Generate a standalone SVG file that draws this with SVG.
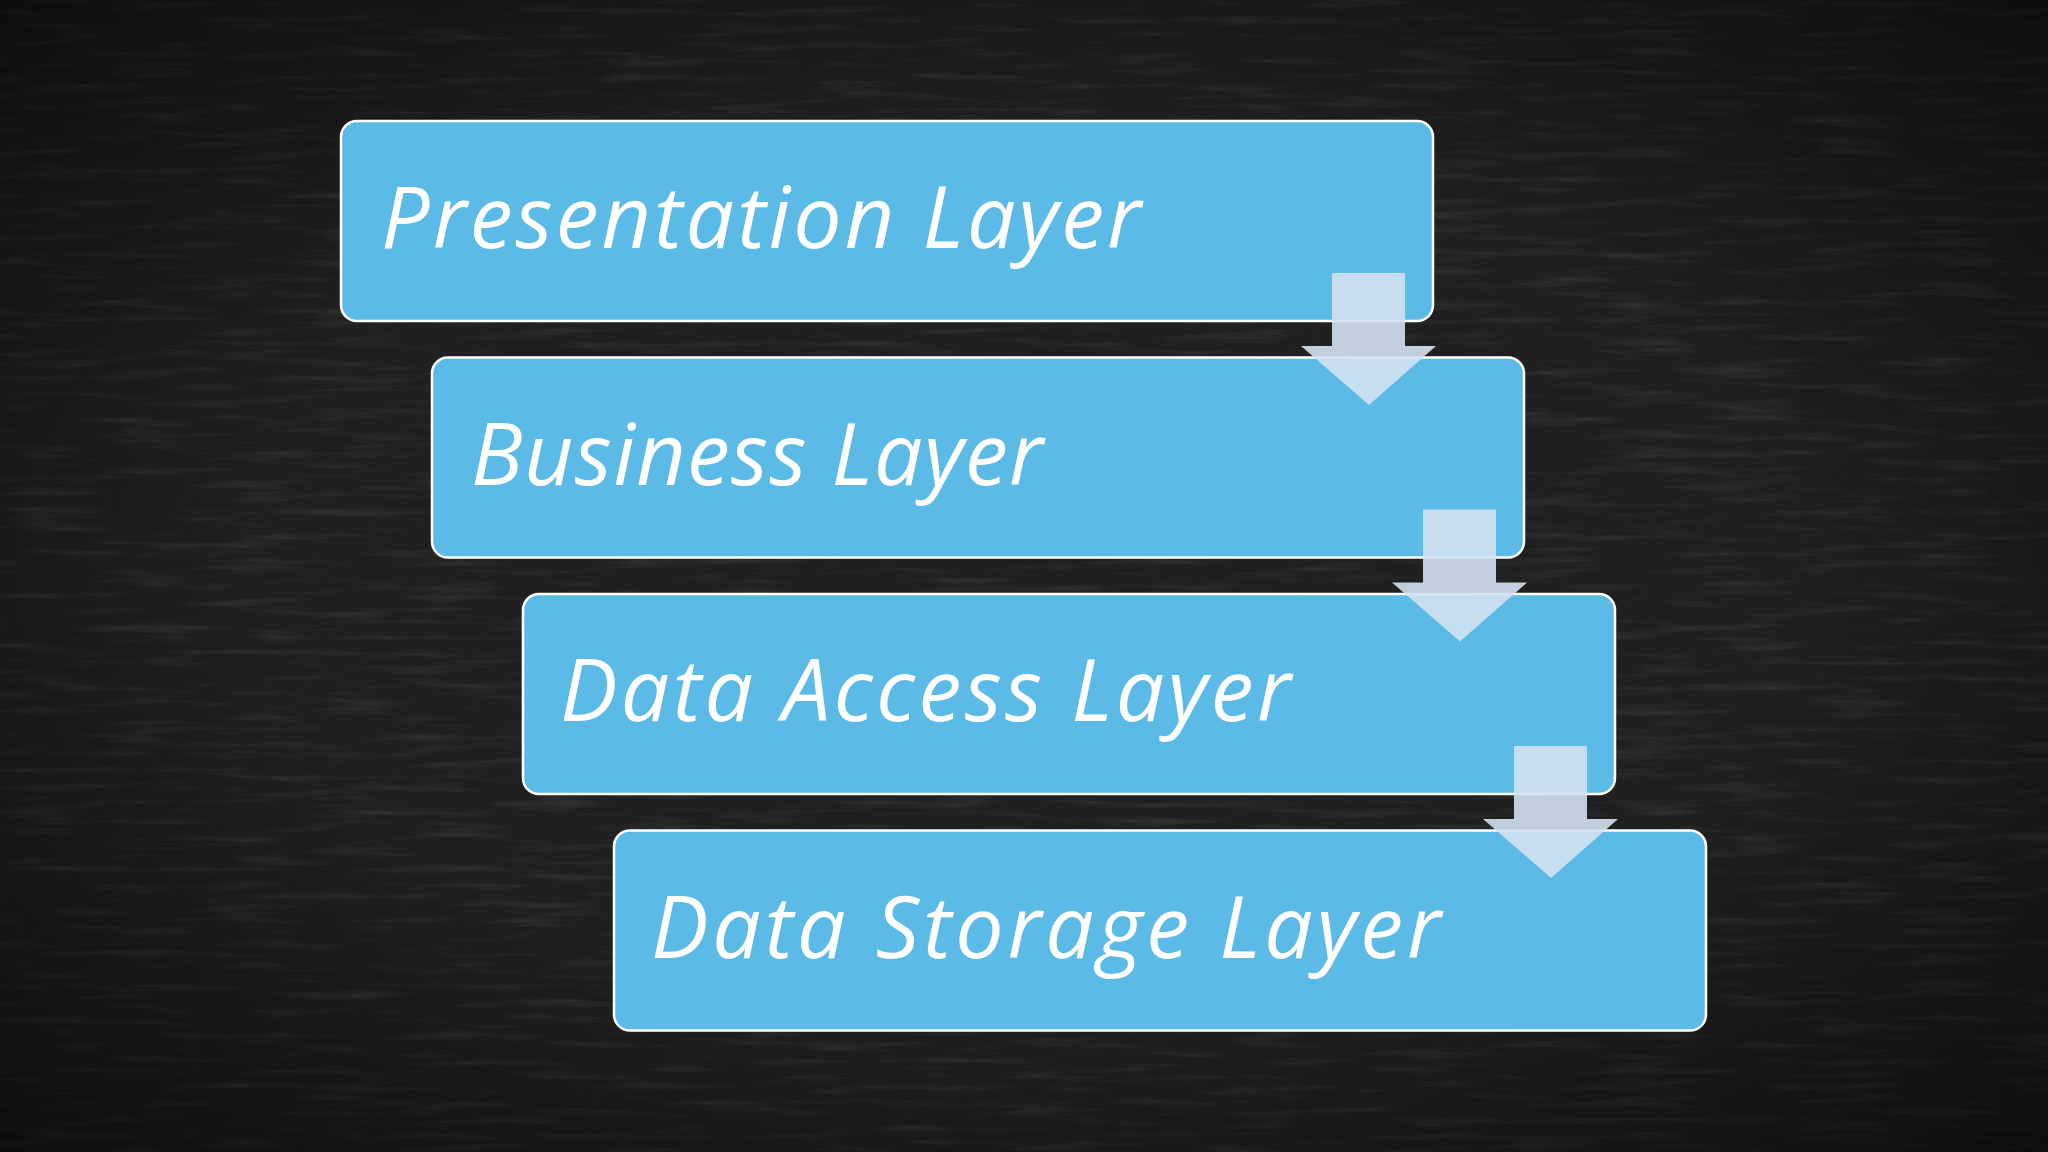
<svg xmlns="http://www.w3.org/2000/svg" width="2048" height="1152" viewBox="0 0 2048 1152">
  <defs>
    <style>
      .box { fill: #5bbae6; stroke: #ffffff; stroke-width: 2.5; }
      .lbl { font-family: "Open Sans", "Noto Sans", "DejaVu Sans", sans-serif; font-style: italic; font-size: 86px; fill: #ffffff; }
      .arrow { fill: #d1e2f0; fill-opacity: 0.9; }
    </style>
    <filter id="chalk" x="0" y="0" width="100%" height="100%">
      <feTurbulence type="fractalNoise" baseFrequency="0.01 0.12" numOctaves="4" seed="7" result="n"/>
      <feColorMatrix type="matrix" values="0 0 0 0 1  0 0 0 0 1  0 0 0 0 1  0 0 0 1.2 -0.6"/>
    </filter>
    <radialGradient id="vig" cx="50%" cy="50%" r="75%">
      <stop offset="0.5" stop-color="#000" stop-opacity="0"/>
      <stop offset="1" stop-color="#000" stop-opacity="0.65"/>
    </radialGradient>
  </defs>

  <rect x="0" y="0" width="2048" height="1152" fill="#202020"/>
  <rect x="0" y="0" width="2048" height="1152" filter="url(#chalk)" opacity="0.16"/>
  <rect x="0" y="0" width="2048" height="1152" fill="url(#vig)"/>

  <g id="node-presentation">
    <rect class="box" x="341" y="121" width="1092" height="200" rx="16"/>
    <text class="lbl" x="381" y="248" textLength="760" lengthAdjust="spacing">Presentation Layer</text>
  </g>
  <g id="node-business">
    <rect class="box" x="432" y="357.5" width="1092" height="200" rx="16"/>
    <text class="lbl" x="471" y="485" textLength="572" lengthAdjust="spacing">Business Layer</text>
  </g>
  <g id="node-data-access">
    <rect class="box" x="523" y="594" width="1092" height="200" rx="16"/>
    <text class="lbl" x="560" y="721" textLength="731" lengthAdjust="spacing">Data Access Layer</text>
  </g>
  <g id="node-data-storage">
    <rect class="box" x="614" y="830.5" width="1092" height="200" rx="16"/>
    <text class="lbl" x="651" y="958" textLength="790" lengthAdjust="spacing">Data Storage Layer</text>
  </g>

  <g id="connectors">
    <path class="arrow" d="M1332,273 H1405 V346 H1436 L1369,405 L1301,346 H1332 Z"/>
    <path class="arrow" d="M1423,509.5 H1496 V582.5 H1527 L1460,641.5 L1392,582.5 H1423 Z"/>
    <path class="arrow" d="M1514,746 H1587 V819 H1618 L1551,878 L1483,819 H1514 Z"/>
  </g>
</svg>
